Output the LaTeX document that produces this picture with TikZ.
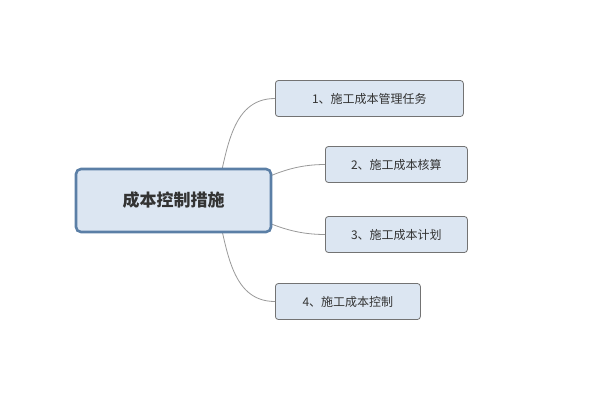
\documentclass[tikz,border=0pt]{standalone}
\usepackage{fontspec}
\setmainfont{Noto Sans CJK SC}
\begin{document}
\begin{tikzpicture}[x=1pt,y=-1pt,
  child/.style={draw=black!55,fill=blue!6!cyan!4!white,fill=childfill,rounded corners=3pt,line width=0.8pt,minimum height=36pt,font=\fontsize{12}{14}\selectfont,text=black!80,anchor=west,inner xsep=8pt},
  root/.style={draw=rootdraw,fill=rootfill,rounded corners=5pt,line width=2.6pt,minimum width=195pt,minimum height=63pt,font=\bfseries\fontsize{17}{20}\selectfont,text=black!80},
  link/.style={draw=black!40,line width=0.8pt}]
\definecolor{childfill}{HTML}{DCE6F2}
\definecolor{rootfill}{HTML}{DCE6F2}
\definecolor{rootdraw}{HTML}{5B7FA6}
\useasboundingbox (0,0) rectangle (600,400);
\node[child,minimum width=188pt] (n1) at (275,98.5) {1、施工成本管理任务};
\node[child,minimum width=142pt] (n2) at (325,164.5) {2、施工成本核算};
\node[child,minimum width=142pt] (n3) at (325,234.5) {3、施工成本计划};
\node[child,minimum width=145pt] (n4) at (275,301.5) {4、施工成本控制};
\coordinate (s) at (215,200);
\draw[link] (s) to[out=75,in=180] (n1.west);
\draw[link] (s) to[out=20,in=180] (n2.west);
\draw[link] (s) to[out=-20,in=180] (n3.west);
\draw[link] (s) to[out=-75,in=180] (n4.west);
\node[root] (r) at (173.5,200.5) {成本控制措施};
\end{tikzpicture}
\end{document}
